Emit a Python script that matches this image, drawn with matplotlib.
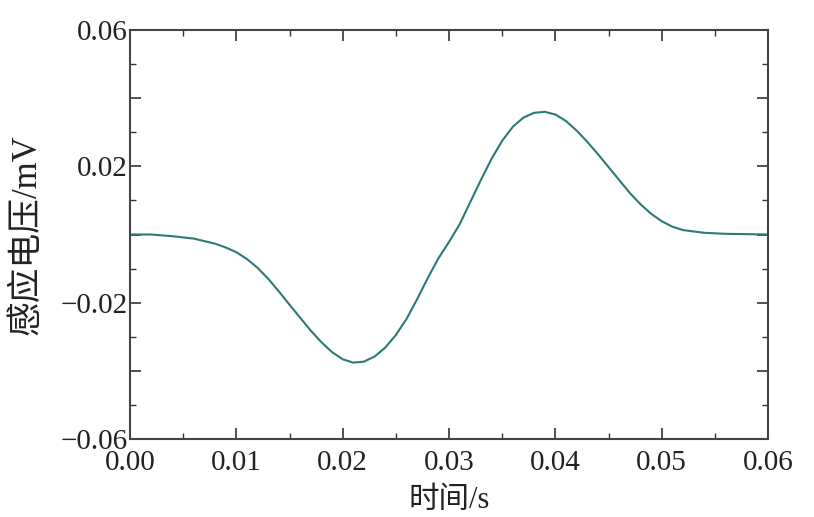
import numpy as np
import matplotlib.pyplot as plt
from matplotlib.ticker import MultipleLocator, FuncFormatter

# 时间 (s) and 感应电压 (mV)
t = [0.000, 0.002, 0.004, 0.006, 0.008, 0.009, 0.010, 0.011, 0.012, 0.013,
     0.014, 0.015, 0.016, 0.017, 0.018, 0.019, 0.020, 0.021, 0.022, 0.023,
     0.024, 0.025, 0.026, 0.027, 0.028, 0.029, 0.030, 0.031, 0.032, 0.033,
     0.034, 0.035, 0.036, 0.037, 0.038, 0.039, 0.040, 0.041, 0.042, 0.043,
     0.044, 0.045, 0.046, 0.047, 0.048, 0.049, 0.050, 0.051, 0.052, 0.054,
     0.056, 0.058, 0.060]
v = [0.0, 0.0, -0.0005, -0.0012, -0.0027, -0.0038, -0.0052, -0.0072, -0.0098, -0.0130,
     -0.0167, -0.0206, -0.0244, -0.0282, -0.0316, -0.0345, -0.0366, -0.0376, -0.0373, -0.0358,
     -0.0332, -0.0295, -0.0248, -0.0190, -0.0128, -0.0070, -0.0022, 0.0030, 0.0095, 0.0160,
     0.0222, 0.0275, 0.0316, 0.0343, 0.0357, 0.0360, 0.0352, 0.0333, 0.0305, 0.0272,
     0.0236, 0.0198, 0.0160, 0.0122, 0.0089, 0.0061, 0.0039, 0.0023, 0.0013, 0.0005,
     0.0002, 0.0001, 0.0]

xlabel = '时间/s'
ylabel = '感应电压/mV'
ylabels_shown = [0.06, 0.02, -0.02, -0.06]

plt.rcParams['font.family'] = ['Liberation Serif', 'Noto Sans CJK SC']
plt.rcParams['axes.unicode_minus'] = True

fig = plt.figure(figsize=(8.14, 5.17), dpi=100)
ax = fig.add_axes([130 / 814, 1 - 439 / 517, 638 / 814, 409 / 517])

ax.plot(t, v, color='#2b7a78', lw=1.5)

ax.set_xlim(0, 0.06)
ax.set_ylim(-0.06, 0.06)
ax.xaxis.set_major_locator(MultipleLocator(0.01))
ax.xaxis.set_minor_locator(MultipleLocator(0.005))
ax.yaxis.set_major_locator(MultipleLocator(0.02))
ax.yaxis.set_minor_locator(MultipleLocator(0.01))
ax.xaxis.set_major_formatter(FuncFormatter(lambda x, p: f'{x:.2f}'))


def yfmt(y, pos):
    for s in ylabels_shown:
        if abs(y - s) < 1e-9:
            return f'{y:.2f}'.replace('-', '\u2212')
    return ''


ax.yaxis.set_major_formatter(FuncFormatter(yfmt))

for sp in ax.spines.values():
    sp.set_color('#444444')
    sp.set_linewidth(1.5)
ax.tick_params(which='both', direction='in', top=True, right=True,
               color='#333333', labelsize=21, labelcolor='#222222')
ax.tick_params(which='major', length=8, width=1.2)
ax.tick_params(which='minor', length=4.5, width=1.0)
ax.tick_params(axis='x', pad=8)
ax.tick_params(axis='y', pad=2)

ax.set_xlabel(xlabel, fontsize=22, labelpad=7, color='#222222')
ax.set_ylabel(ylabel, fontsize=25, labelpad=12, color='#222222')

fig.savefig('out.png', dpi=100)
